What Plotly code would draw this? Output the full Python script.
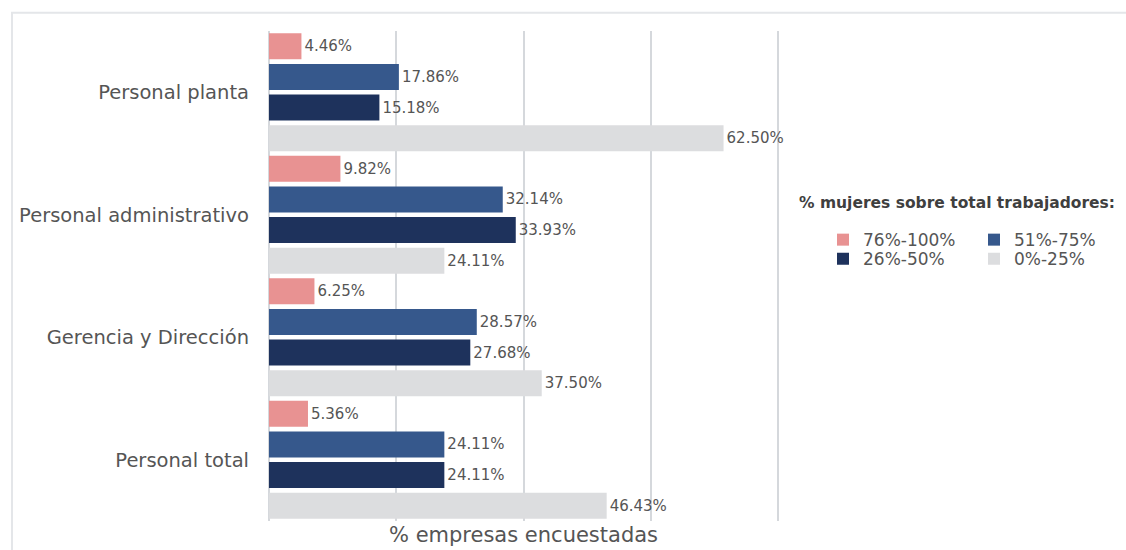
import plotly.graph_objects as go

categories = ["Personal planta", "Personal administrativo", "Gerencia y Dirección", "Personal total"]
series_names = ["76%-100%", "51%-75%", "26%-50%", "0%-25%"]
vals_76_100 = [4.46, 9.82, 6.25, 5.36]
vals_51_75 = [17.86, 32.14, 28.57, 24.11]
vals_26_50 = [15.18, 33.93, 27.68, 24.11]
vals_0_25 = [62.50, 24.11, 37.50, 46.43]
colors = ["#E89292", "#36588C", "#1E325C", "#DCDDDF"]

FONT = "DejaVu Sans"
TXT = "#555555"

fig = go.Figure()
series = [vals_76_100, vals_51_75, vals_26_50, vals_0_25]
legends = ["legend", "legend", "legend2", "legend2"]
for name, vals, col, lg in zip(series_names, series, colors, legends):
    fig.add_trace(go.Bar(
        y=categories, x=vals, name=name, orientation="h",
        marker=dict(color=col, line=dict(width=0)),
        text=vals, texttemplate="%{x:.2f}%", textposition="outside",
        textfont=dict(family=FONT, size=15, color=TXT),
        cliponaxis=False, legend=lg,
    ))

# plot area spans 512 px horizontally (0 to 70.4 on the value axis)
PW = 512.0

# light frame around the chart
fig.add_shape(type="rect", xref="paper", yref="paper",
              x0=-257 / PW, x1=1.75, y0=-0.1, y1=1.037,
              line=dict(color="#E4E6E9", width=2), layer="below")

fig.add_annotation(text="% empresas encuestadas", xref="paper", yref="paper",
                   x=254.5 / PW, y=-0.057, xanchor="center", yanchor="bottom", showarrow=False,
                   font=dict(family=FONT, size=21, color=TXT))

fig.add_annotation(text="<b>% mujeres sobre total trabajadores:</b>", xref="paper", yref="paper",
                   x=528 / PW, y=0.649, xanchor="left", yanchor="middle", showarrow=False,
                   font=dict(family=FONT, size=15.5, color="#3F3F3F"))

fig.update_layout(
    width=1126, height=550,
    margin=dict(l=269, r=345, t=31, b=29, autoexpand=False),
    paper_bgcolor="white", plot_bgcolor="white",
    barmode="group", bargap=0.0, bargroupgap=0.15,
    font=dict(family=FONT, color=TXT),
    xaxis=dict(range=[0, 70.4], tickvals=[17.5, 35, 52.5, 70], showticklabels=False,
               showgrid=True, gridcolor="#D5D8DC", gridwidth=2,
               zeroline=True, zerolinecolor="#D5D8DC", zerolinewidth=2,
               showline=False, fixedrange=True),
    yaxis=dict(autorange="reversed", showgrid=False, ticks="",
               tickfont=dict(family=FONT, size=19.5, color=TXT),
               ticklabelstandoff=19, showline=False),
    legend=dict(orientation="h", x=554 / PW, y=0.610, xanchor="left", yanchor="top",
                font=dict(family=FONT, size=17, color=TXT),
                entrywidth=106, itemwidth=30, bgcolor="rgba(0,0,0,0)"),
    legend2=dict(orientation="h", x=554 / PW, y=0.571, xanchor="left", yanchor="top",
                 font=dict(family=FONT, size=17, color=TXT),
                 entrywidth=106, itemwidth=30, bgcolor="rgba(0,0,0,0)"),
)

fig.write_html("out.html")
